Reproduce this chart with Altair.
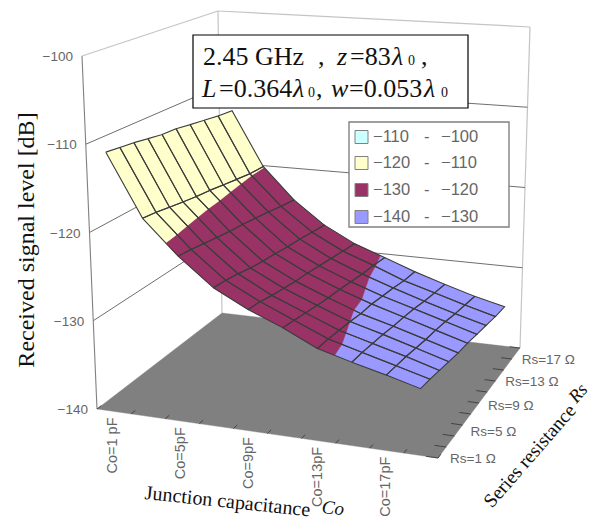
import altair as alt
import pandas as pd

# ---------- data ----------
CO_VALUES = [1, 3, 5, 7, 9, 11, 13, 15, 17, 19]
RS_VALUES = [1, 3, 5, 7, 9, 11, 13, 15, 17, 19]
# received level [dB]; one row per Co, one column per Rs
LEVEL_CO1 = [-110.7, -110.9, -111.1, -111.4, -111.7, -111.8, -112.1, -112.4, -112.7, -112.9]
LEVEL_CO3 = [-117.6, -117.8, -118.1, -118.4, -118.7, -118.9, -119.2, -119.5, -119.8, -119.9]
LEVEL_CO5 = [-121.3, -121.5, -121.8, -122.1, -122.4, -122.6, -122.9, -123.2, -123.6, -123.9]
LEVEL_CO7 = [-124.3, -124.5, -124.8, -125.2, -125.5, -125.7, -126.0, -126.2, -126.5, -126.8]
LEVEL_CO9 = [-126.2, -126.4, -126.8, -127.1, -127.4, -127.6, -127.9, -128.2, -128.5, -128.8]
LEVEL_CO11 = [-127.7, -128.0, -128.3, -128.6, -128.9, -129.1, -129.4, -129.7, -129.9, -130.2]
LEVEL_CO13 = [-129.5, -129.6, -129.8, -130.0, -130.3, -130.4, -130.7, -131.0, -131.4, -131.6]
LEVEL_CO15 = [-130.5, -130.6, -130.8, -131.0, -131.3, -131.5, -131.8, -132.2, -132.5, -132.8]
LEVEL_CO17 = [-131.4, -131.6, -131.8, -132.1, -132.4, -132.6, -132.9, -133.3, -133.6, -133.9]
LEVEL_CO19 = [-132.4, -132.6, -132.9, -133.2, -133.5, -133.7, -134.0, -134.3, -134.6, -134.8]
LEVELS = [LEVEL_CO1, LEVEL_CO3, LEVEL_CO5, LEVEL_CO7, LEVEL_CO9,
          LEVEL_CO11, LEVEL_CO13, LEVEL_CO15, LEVEL_CO17, LEVEL_CO19]

BAND_LOW = [-140, -130, -120, -110]
BAND_COLOR = ["#9999FF", "#993366", "#FFFFCC", "#CCFFFF"]
Z_TICKS = [-100, -110, -120, -130, -140]
CO_LABELS = ["Co=1 pF", "Co=5pF", "Co=9pF", "Co=13pF", "Co=17pF"]
RS_LABELS = ["Rs=1 Ω", "Rs=5 Ω", "Rs=9 Ω", "Rs=13 Ω", "Rs=17 Ω"]
LEGEND_LOW = ["−140", "−130", "−120", "−110"]
LEGEND_HIGH = ["−130", "−120", "−110", "−100"]

# ---------- view of the 3-D box (page pixels) ----------
PAGE_W, PAGE_H = 598, 527
FLOOR = {"fl": (97, 409), "fr": (438, 458), "br": (520, 348), "bl": (222, 313)}
TOP = {"fl": (82, 56), "fr": (427, 118), "br": (530, 27), "bl": (218, 11)}


def mix(a, b, t):
    return (a[0] + (b[0] - a[0]) * t, a[1] + (b[1] - a[1]) * t)


def on_plane(c, u, v):
    return mix(mix(c["fl"], c["fr"], u), mix(c["bl"], c["br"], u), v)


def project(u, v, z):
    return mix(on_plane(FLOOR, u, v), on_plane(TOP, u, v), (z + 140) / 40)


def clip(poly, level, keep_above):
    out = []
    for k, p in enumerate(poly):
        q = poly[(k + 1) % len(poly)]
        pin = (p[2] >= level) == keep_above
        qin = (q[2] >= level) == keep_above
        if pin:
            out.append(p)
        if pin != qin:
            t = (level - p[2]) / (q[2] - p[2])
            out.append(tuple(p[m] + (q[m] - p[m]) * t for m in range(3)))
    return out


U = [(i + 0.5) / len(CO_VALUES) for i in range(len(CO_VALUES))]
V = [0.02 + 0.96 * j / (len(RS_VALUES) - 1) for j in range(len(RS_VALUES))]
V_TICK = [(j + 0.5) / len(RS_VALUES) for j in range(len(RS_VALUES))]

fills, cells = [], []
pid = 0
for j in range(len(V) - 2, -1, -1):
    for i in range(len(U) - 1):
        quad = [(U[i], V[j], LEVELS[i][j]), (U[i + 1], V[j], LEVELS[i + 1][j]),
                (U[i + 1], V[j + 1], LEVELS[i + 1][j + 1]), (U[i], V[j + 1], LEVELS[i][j + 1])]
        for low, col in zip(BAND_LOW, BAND_COLOR):
            part = clip(clip(quad, low, True), low + 10, False)
            if len(part) < 3:
                continue
            pid += 1
            for k, p in enumerate(part + part[:1]):
                x, y = project(*p)
                fills.append({"pid": pid, "k": k, "x": x, "y": y, "c": col})
        pid += 1
        for k, p in enumerate(quad + quad[:1]):
            x, y = project(*p)
            cells.append({"pid": pid, "k": k, "x": x, "y": y})

floor_rows = [{"pid": 0, "k": k, "x": FLOOR[key][0], "y": FLOOR[key][1], "c": "#808080"}
              for k, key in enumerate(["fl", "fr", "br", "bl", "fl"])]


def seg_rows(segments):
    rows = []
    for n, pts in enumerate(segments):
        for k, (x, y) in enumerate(pts):
            rows.append({"pid": n, "k": k, "x": x, "y": y})
    return rows


X = alt.X("x:Q", scale=alt.Scale(domain=[8, PAGE_W - 8]), axis=None)
Y = alt.Y("y:Q", scale=alt.Scale(domain=[PAGE_H - 8, 8]), axis=None)


def path(rows, color, width):
    return alt.Chart(pd.DataFrame(rows)).mark_line(
        color=color, strokeWidth=width, clip=False, interpolate="linear"
    ).encode(x=X, y=Y, detail="pid:N", order="k:Q")


def filled(rows):
    return alt.Chart(pd.DataFrame(rows)).mark_line(strokeWidth=0.4, interpolate="linear").encode(
        x=X, y=Y, detail="pid:N", order="k:Q",
        fill=alt.Fill("c:N", scale=None, legend=None),
        stroke=alt.Stroke("c:N", scale=None, legend=None),
    )


def text(rows, size, font="Liberation Sans", color="#666666", style="normal",
         angle=0, align="left", baseline="alphabetic"):
    return alt.Chart(pd.DataFrame(rows)).mark_text(
        fontSize=size, font=font, color=color, fontStyle=style, angle=angle,
        align=align, baseline=baseline,
    ).encode(x=X, y=Y, text="t:N")


def box(x0, y0, x1, y1, fill, stroke, width):
    d = pd.DataFrame([{"x": x0, "y": y0, "x1": x1, "y1": y1}])
    return alt.Chart(d).mark_rect(fill=fill, stroke=stroke, strokeWidth=width).encode(
        x=X, y=Y, x2="x1:Q", y2="y1:Q")


# walls
light = [[TOP["fl"], TOP["bl"]], [TOP["bl"], TOP["br"]], [TOP["br"], FLOOR["br"]],
         [TOP["bl"], FLOOR["bl"]]]
grid = []
for z in [-110, -120, -130]:
    grid.append([project(0, 0, z), project(0, 1, z), project(1, 1, z)])
front_edge = [[TOP["fl"], FLOOR["fl"]]]

# floor ticks
ticks = []
for t in range(11):
    a = t / 10
    ticks.append([project(a, 0, -140), project(a, 0.035, -140)])
    ticks.append([project(1, a, -140), project(0.965, a, -140)])

layers = [
    path(seg_rows(light), "#C4C4C4", 1.2),
    path(seg_rows(grid), "#6E6E6E", 1),
    path(seg_rows(front_edge), "#808080", 1.1),
    filled(floor_rows),
    path(seg_rows(ticks), "#444444", 1),
    filled(fills),
    path(cells, "#3C3C3C", 1.1),
]

# value-axis labels
z_rows = []
for z in Z_TICKS:
    x, y = project(0, 0, z)
    z_rows.append({"x": x - 9, "y": y + 1, "t": "−" + str(-z)})
layers.append(text(z_rows, 13.5, align="right", baseline="middle"))

# category labels
co_rows = []
for n, lab in enumerate(CO_LABELS):
    x, y = project(U[2 * n], 0, -140)
    co_rows.append({"x": x - 1, "y": y + 6, "t": lab})
layers.append(text(co_rows, 14.5, angle=270, align="right", baseline="middle"))

RS_DX, RS_DY = [8, 12, 13, 14, 14], [6.5, 1.5, -2.5, -4.5, -5]
rs_rows = []
for n, lab in enumerate(RS_LABELS):
    x, y = project(1, V_TICK[2 * n], -140)
    rs_rows.append({"x": x + RS_DX[n], "y": y + RS_DY[n], "t": lab})
layers.append(text(rs_rows, 13.5, baseline="middle"))

# axis titles
SERIF = "Liberation Serif"
layers.append(text([{"x": 145, "y": 493, "t": "Junction capacitance"}], 20, SERIF, "#111111",
                   angle=6, baseline="middle"))
layers.append(text([{"x": 27, "y": 240, "t": "Received signal level [dB]"}], 24, SERIF, "#111111",
                   angle=270, align="center", baseline="middle"))
layers.append(text([{"x": 322, "y": 507, "t": "Co"}], 19, SERIF, "#111111", style="italic",
                   angle=6, baseline="middle"))
layers.append(text([{"x": 530, "y": 456, "t": "Series resistance"}], 19.5, SERIF, "#111111",
                   angle=311, align="center", baseline="middle"))
layers.append(text([{"x": 578, "y": 393, "t": "Rs"}], 18.5, SERIF, "#111111", style="italic",
                   angle=311, align="center", baseline="middle"))

# note box
layers.append(box(193, 35, 468, 108, "white", "black", 1.2))
layers.append(text([
    {"x": 203, "y": 65, "t": "2.45 GHz"}, {"x": 318, "y": 65, "t": ","},
    {"x": 350, "y": 65, "t": "=83"}, {"x": 421, "y": 65, "t": ","},
    {"x": 219, "y": 97, "t": "=0.364"}, {"x": 316, "y": 97, "t": ","},
    {"x": 349, "y": 97, "t": "=0.053"},
], 26, SERIF, "#111111"))
layers.append(text([
    {"x": 337, "y": 65, "t": "z"}, {"x": 392, "y": 65, "t": "λ"},
    {"x": 202, "y": 97, "t": "L"}, {"x": 293, "y": 97, "t": "λ"},
    {"x": 331, "y": 97, "t": "w"}, {"x": 424, "y": 97, "t": "λ"},
], 26, SERIF, "#111111", style="italic"))
layers.append(text([
    {"x": 408, "y": 65, "t": "0"}, {"x": 308, "y": 97, "t": "0"}, {"x": 441, "y": 97, "t": "0"},
], 14, SERIF, "#111111"))

# legend
layers.append(box(349, 122, 509, 227, "white", "#808080", 1.4))
LEG_Y = [217, 190, 163, 137]
for ly, col, lo, hi in zip(LEG_Y, BAND_COLOR, LEGEND_LOW, LEGEND_HIGH):
    layers.append(box(355, ly - 6.5, 368, ly + 6.5, col, "#808080", 1))
    layers.append(text([{"x": 373, "y": ly, "t": lo}, {"x": 424, "y": ly, "t": "-"},
                        {"x": 441, "y": ly, "t": hi}], 16.5, baseline="middle"))

chart = alt.layer(*layers).properties(
    width=PAGE_W - 16, height=PAGE_H - 16,
    autosize=alt.AutoSizeParams(type="none"), padding=0,
).configure_view(stroke=None)

chart.save("out.html", embed_options={"renderer": "svg", "actions": False})
